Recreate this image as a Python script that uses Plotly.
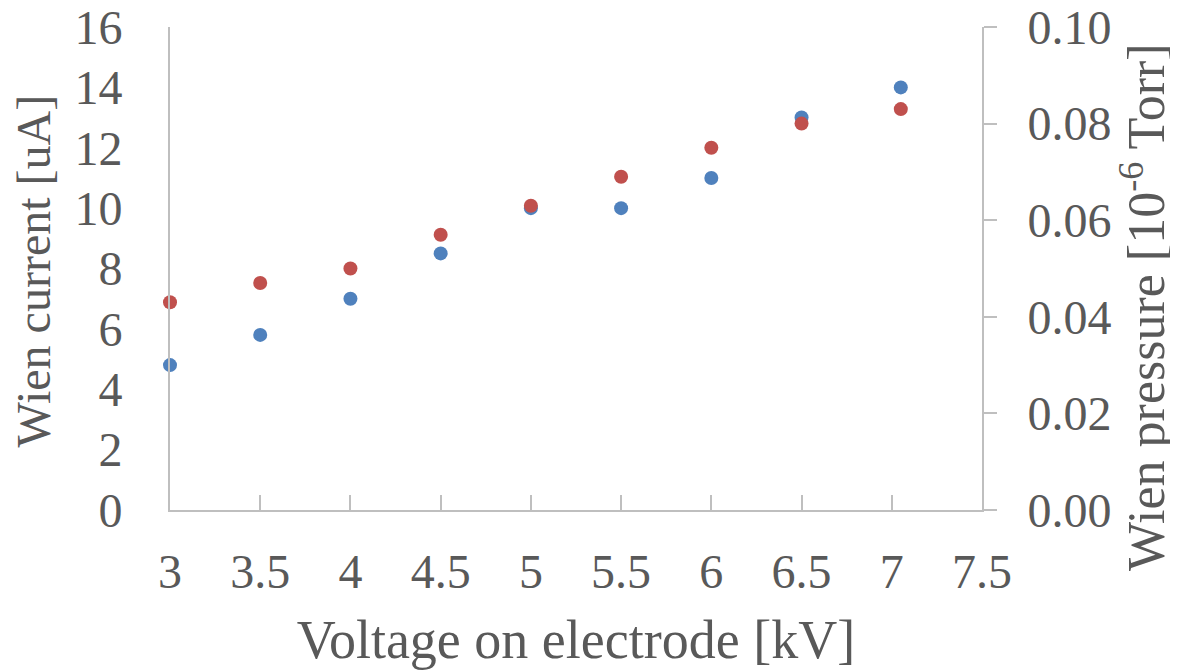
import plotly.graph_objects as go

voltage_kv = [3, 3.5, 4, 4.5, 5, 5.5, 6, 6.5, 7.05]
wien_current_ua = [4.8, 5.8, 7.0, 8.5, 10.0, 10.0, 11.0, 13.0, 14.0]
wien_pressure = [0.043, 0.047, 0.050, 0.057, 0.063, 0.069, 0.075, 0.080, 0.083]

FONT = "Liberation Serif, Times New Roman, serif"
TXT = "#595959"
AX = "#bfbfbf"
TICK_SIZE = 48
XTITLE_SIZE = 54

fig = go.Figure()
fig.add_trace(go.Scatter(x=voltage_kv, y=wien_current_ua, mode="markers",
                         marker=dict(size=14, color="#4F81BD"), name="Wien current",
                         cliponaxis=False))
fig.add_trace(go.Scatter(x=voltage_kv, y=wien_pressure, mode="markers", yaxis="y2",
                         marker=dict(size=14, color="#C0504D"), name="Wien pressure",
                         cliponaxis=False))

# the page body adds an 8px offset, so the figure is 8px smaller and margins compensate
fig.update_layout(
    width=1170, height=662,
    margin=dict(l=162, r=196, t=19, b=160),
    paper_bgcolor="white", plot_bgcolor="white",
    showlegend=False,
    font=dict(family=FONT, color=TXT, size=TICK_SIZE),
    xaxis=dict(range=[3, 7.5], dtick=0.5, tick0=3, showgrid=False, zeroline=False,
               showline=True, linecolor=AX, linewidth=2, automargin=False,
               ticks="inside", ticklen=15, tickcolor=AX, tickwidth=1.5,
               ticklabelstandoff=18, ticklabeloverflow="allow",
               tickfont=dict(size=TICK_SIZE, family=FONT, color=TXT),
               title=dict(text="Voltage on electrode [kV]",
                          font=dict(size=XTITLE_SIZE, family=FONT, color=TXT),
                          standoff=26)),
    yaxis=dict(range=[0, 16], dtick=2, showgrid=False, zeroline=False,
               showline=True, linecolor=AX, linewidth=2, automargin=False,
               ticks="", ticklabelstandoff=36, ticklabeloverflow="allow",
               tickfont=dict(size=TICK_SIZE, family=FONT, color=TXT)),
    yaxis2=dict(range=[0, 0.10], dtick=0.02, tickformat=".2f", overlaying="y", side="right",
                showgrid=False, zeroline=False, automargin=False,
                showline=True, linecolor=AX, linewidth=2,
                ticks="outside", ticklen=13, tickcolor=AX, tickwidth=1.5,
                ticklabelstandoff=21, ticklabeloverflow="allow",
                tickfont=dict(size=TICK_SIZE, family=FONT, color=TXT)),
)

# y axis titles, placed as in the reference
fig.add_annotation(text="Wien current [uA]", textangle=-90,
                   xref="paper", yref="paper", x=-0.1687, y=0.494,
                   xanchor="center", yanchor="middle", showarrow=False,
                   font=dict(size=48, family=FONT, color=TXT))
fig.add_annotation(text="Wien pressure [10<sup>-6</sup> Torr]", textangle=-90,
                   xref="paper", yref="paper", x=1.198, y=0.42,
                   xanchor="center", yanchor="middle", showarrow=False,
                   font=dict(size=52, family=FONT, color=TXT))

# x-axis line continues slightly past the right axis (as in the reference)
fig.add_shape(type="line", xref="x domain", yref="y domain", x0=1, x1=1.018, y0=0, y1=0,
              line=dict(color=AX, width=2), layer="below")

fig.write_html("out.html")
